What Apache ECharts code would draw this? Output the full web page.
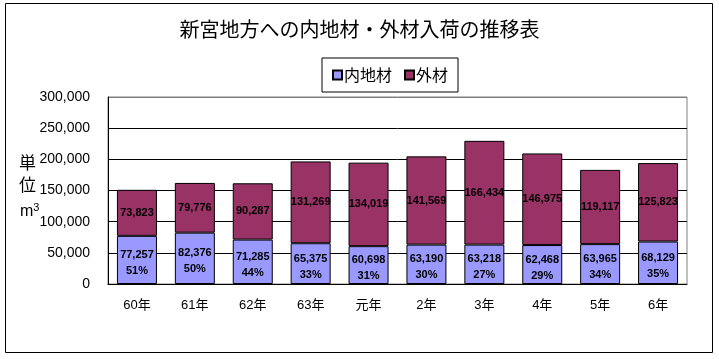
<!DOCTYPE html>
<html><head><meta charset="utf-8">
<script src="https://cdn.jsdelivr.net/npm/echarts@6/dist/echarts.min.js"></script>
<style>html,body{margin:0;padding:0;background:#fff}#c{width:719px;height:359px}</style>
</head><body><div id="c"></div>
<script>
const categories = ['60年','61年','62年','63年','元年','2年','3年','4年','5年','6年'];
const domestic = [77257, 82376, 71285, 65375, 60698, 63190, 63218, 62468, 63965, 68129];
const foreign = [73823, 79776, 90287, 131269, 134019, 141569, 166434, 146975, 119117, 125823];
const domesticPct = [51, 50, 44, 33, 31, 30, 27, 29, 34, 35];
const yTicks = [0, 50000, 100000, 150000, 200000, 250000, 300000];

const FONT = '"Liberation Sans","Noto Sans CJK JP",sans-serif';
const fmt = v => v.toLocaleString('en-US');
const chart = echarts.init(document.getElementById('c'));
chart.setOption({
  animation: false,
  backgroundColor: '#fff',
  title: {
    text: '新宮地方への内地材・外材入荷の推移表',
    left: 'center', top: 14,
    textStyle: { fontFamily: '"Noto Sans CJK JP",sans-serif', fontSize: 20, fontWeight: 'normal', color: '#000' }
  },
  legend: {
    top: 58, left: 322,
    itemWidth: 9, itemHeight: 9, itemGap: 12,
    padding: [9, 10, 9, 10],
    borderColor: '#000', borderWidth: 1,
    textStyle: { fontFamily: '"Noto Sans CJK JP",sans-serif', fontSize: 16, color: '#000', padding: [0, 0, 0, -3] },
    data: [{ name: '内地材', icon: 'rect' }, { name: '外材', icon: 'rect' }]
  },
  grid: { left: 108, right: 32, top: 97, bottom: 75, show: true, borderColor: '#808080', borderWidth: 1 },
  xAxis: {
    type: 'category', data: categories,
    axisLine: { lineStyle: { color: '#000', width: 1 } },
    axisTick: { inside: true, length: 4, lineStyle: { color: '#000' } },
    axisLabel: { fontFamily: FONT, fontSize: 13, color: '#000', margin: 15 }
  },
  yAxis: {
    type: 'value', min: yTicks[0], max: yTicks[yTicks.length - 1], interval: yTicks[1] - yTicks[0],
    axisLine: { show: true, lineStyle: { color: '#000', width: 1 } },
    axisTick: { show: false },
    axisLabel: { fontFamily: FONT, fontSize: 14, color: '#000', margin: 18, formatter: v => fmt(v) },
    splitLine: { show: true, lineStyle: { color: ['#000', '#000', '#000', '#000', '#000', '#000', '#808080'], width: 1 } }
  },
  series: [
    {
      name: '内地材', type: 'bar', stack: 'total', data: domestic, barWidth: 40,
      itemStyle: { color: '#9999FF', borderColor: '#000', borderWidth: 1 },
      label: {
        show: true, position: 'inside', offset: [0, 3], color: '#000', fontFamily: FONT, fontSize: 11, fontWeight: 'bold',
        lineHeight: 16,
        formatter: p => fmt(domestic[p.dataIndex]) + '\n' + domesticPct[p.dataIndex] + '%'
      }
    },
    {
      name: '外材', type: 'bar', stack: 'total', data: foreign, barWidth: 40,
      itemStyle: { color: '#993366', borderColor: '#000', borderWidth: 1 },
      label: {
        show: true, position: 'inside', color: '#000', fontFamily: FONT, fontSize: 11, fontWeight: 'bold',
        formatter: p => fmt(foreign[p.dataIndex])
      }
    }
  ],
  graphic: [
    { type: 'rect', shape: { x: 5.5, y: 3.5, width: 707, height: 349 }, style: { fill: null, stroke: '#000', lineWidth: 1 }, z: 100 },
    { type: 'text', left: 19, top: 152, style: { text: '単\n位', font: '17px "Noto Sans CJK JP",sans-serif', fill: '#000', lineHeight: 22 } },
    { type: 'text', left: 20, top: 202, style: {
        text: '{m|m}{s|3}',
        rich: {
          m: { fontSize: 16, fontFamily: '"Liberation Sans",sans-serif', fill: '#000', verticalAlign: 'bottom', lineHeight: 18 },
          s: { fontSize: 11, fontFamily: '"Liberation Sans",sans-serif', fill: '#000', verticalAlign: 'top', lineHeight: 18 }
        }
      } }
  ]
});
</script></body></html>
